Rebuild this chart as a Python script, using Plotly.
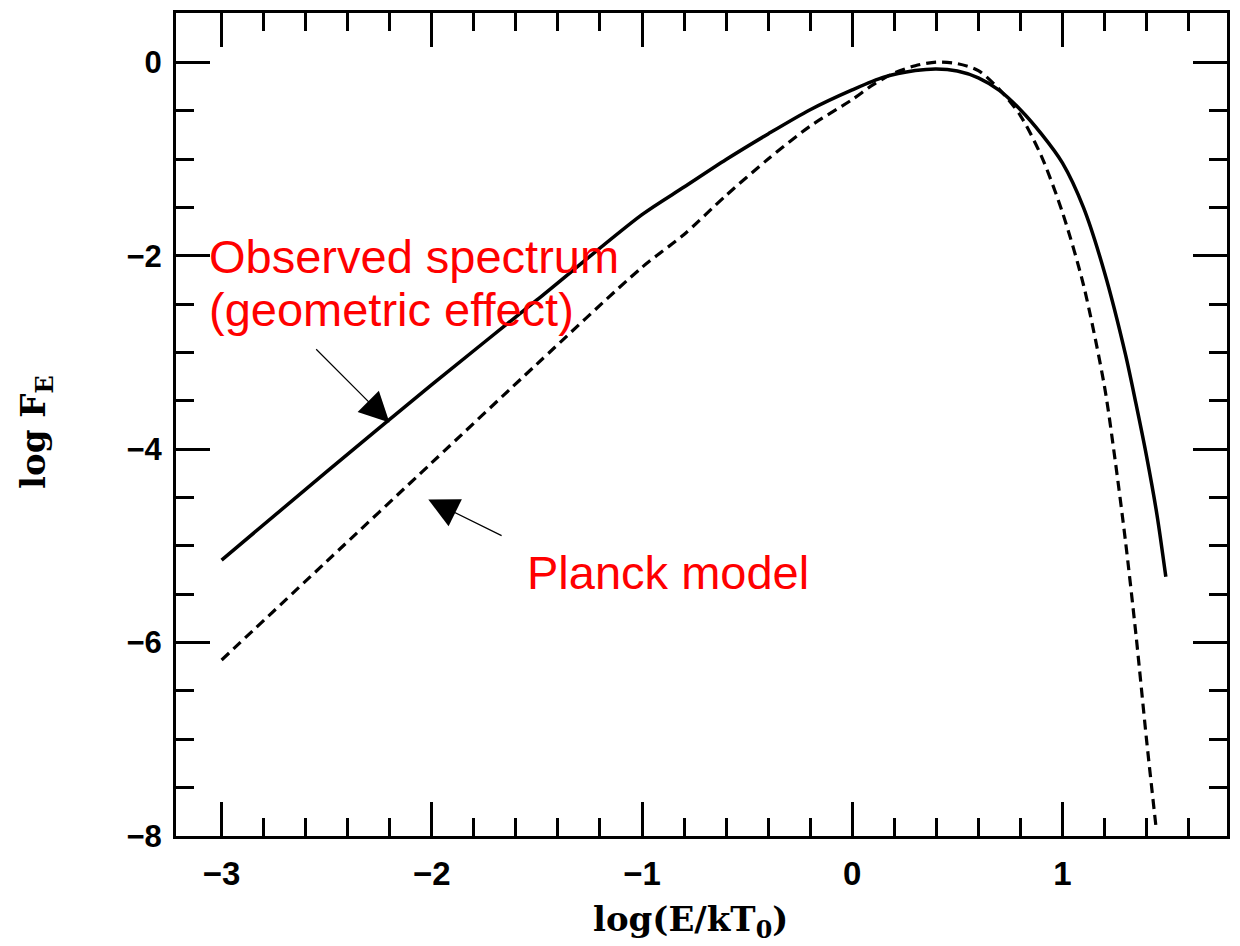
import plotly.graph_objects as go

# ---- data ----
observed_x = [-3.0, -2.5, -2.0, -1.5, -1.0, -0.8, -0.6, -0.4, -0.2, 0.0, 0.15, 0.3, 0.4,
              0.5, 0.6, 0.7, 0.8, 0.9, 1.0, 1.1, 1.2, 1.3, 1.35, 1.4, 1.45, 1.492]
observed_y = [-5.147, -4.232, -3.332, -2.457, -1.575, -1.29, -1.005, -0.74, -0.49, -0.285,
              -0.153, -0.085, -0.068, -0.09, -0.16, -0.29, -0.49, -0.74, -1.04, -1.50,
              -2.17, -3.02, -3.53, -4.07, -4.68, -5.32]

planck_x = [-3.0, -2.5, -2.0, -1.5, -1.0, -0.8, -0.6, -0.4, -0.2, 0.0, 0.1, 0.2, 0.3,
            0.4, 0.5, 0.6, 0.7, 0.8, 0.9, 1.0, 1.1, 1.2, 1.25, 1.3, 1.35, 1.4, 1.445]
planck_y = [-6.18, -5.16, -4.14, -3.12, -2.12, -1.78, -1.376, -1.0, -0.66, -0.385,
            -0.23, -0.11, -0.035, 0.003, -0.013, -0.085, -0.28, -0.55, -0.97, -1.55,
            -2.30, -3.35, -4.10, -4.95, -5.92, -7.0, -7.90]

x_ticks = [-3, -2, -1, 0, 1]
x_minor = [-2.8, -2.6, -2.4, -2.2, -1.8, -1.6, -1.4, -1.2, -0.8, -0.6, -0.4, -0.2,
           0.2, 0.4, 0.6, 0.8, 1.2, 1.4, 1.6]
y_ticks = [-8, -6, -4, -2, 0]
y_minor = [-7.5, -7, -6.5, -5.5, -5, -4.5, -3.5, -3, -2.5, -1.5, -1, -0.5]

fig = go.Figure()
fig.add_trace(go.Scatter(x=observed_x, y=observed_y, mode="lines",
                         line=dict(color="black", width=3.5, shape="spline", smoothing=0.8),
                         showlegend=False))
fig.add_trace(go.Scatter(x=planck_x, y=planck_y, mode="lines",
                         line=dict(color="black", width=3.2, dash="10px,6px",
                                   shape="spline", smoothing=0.8),
                         showlegend=False))

axis_common = dict(showline=True, linewidth=3, linecolor="black", mirror="allticks",
                   ticks="inside", tickwidth=3, tickcolor="black", ticklen=34,
                   tickmode="array", showgrid=False, zeroline=False)

fig.update_xaxes(range=[-3.217, 1.783], tickvals=x_ticks, **axis_common,
                 tickfont=dict(family="Liberation Sans", size=33, color="black", weight="bold"),
                 ticklabelstandoff=6,
                 minor=dict(tickmode="array", tickvals=x_minor, ticks="inside", ticklen=18,
                            tickwidth=3, tickcolor="black", showgrid=False))
fig.update_yaxes(range=[-8, 0.51], tickvals=y_ticks, **axis_common,
                 tickfont=dict(family="Liberation Sans", size=31, color="black", weight="bold"),
                 ticklabelstandoff=5,
                 minor=dict(tickmode="array", tickvals=y_minor, ticks="inside", ticklen=18,
                            tickwidth=3, tickcolor="black", showgrid=False))

red = dict(family="Liberation Sans", size=47, color="#ff0000")
fig.add_annotation(x=-3.07, y=-2.007, xref="x", yref="y", text="Observed spectrum",
                   showarrow=False, xanchor="left", yanchor="middle", font=red)
fig.add_annotation(x=-3.07, y=-2.559, xref="x", yref="y", text="(geometric effect)",
                   showarrow=False, xanchor="left", yanchor="middle", font=red)
fig.add_annotation(x=-1.556, y=-5.279, xref="x", yref="y", text="Planck model",
                   showarrow=False, xanchor="left", yanchor="middle", font=red)

# arrows
fig.add_annotation(x=-2.2016, y=-3.725, ax=-2.5572, ay=-2.951, xref="x", yref="y",
                   axref="x", ayref="y", text="", showarrow=True, arrowhead=2,
                   arrowsize=5, arrowwidth=1.2, arrowcolor="black")
fig.add_annotation(x=-2.0166, y=-4.520, ax=-1.6608, ay=-4.902, xref="x", yref="y",
                   axref="x", ayref="y", text="", showarrow=True, arrowhead=2,
                   arrowsize=5, arrowwidth=1.2, arrowcolor="black")

# axis titles
title_font = dict(family="DejaVu Serif", size=34, color="black", weight="bold")
fig.add_annotation(x=0.4896, y=-0.104, xref="paper", yref="paper",
                   text="log(E/kT<sub>0</sub>)", showarrow=False,
                   xanchor="center", yanchor="middle", font=title_font)
fig.add_annotation(x=-0.133, y=0.49, xref="paper", yref="paper",
                   text="log F<sub>E</sub>", showarrow=False, textangle=-90,
                   xanchor="center", yanchor="middle", font=title_font)

fig.update_layout(width=1240, height=946, margin=dict(l=176, r=10, t=13, b=110),
                  paper_bgcolor="white", plot_bgcolor="white")

fig.write_html("out.html")
